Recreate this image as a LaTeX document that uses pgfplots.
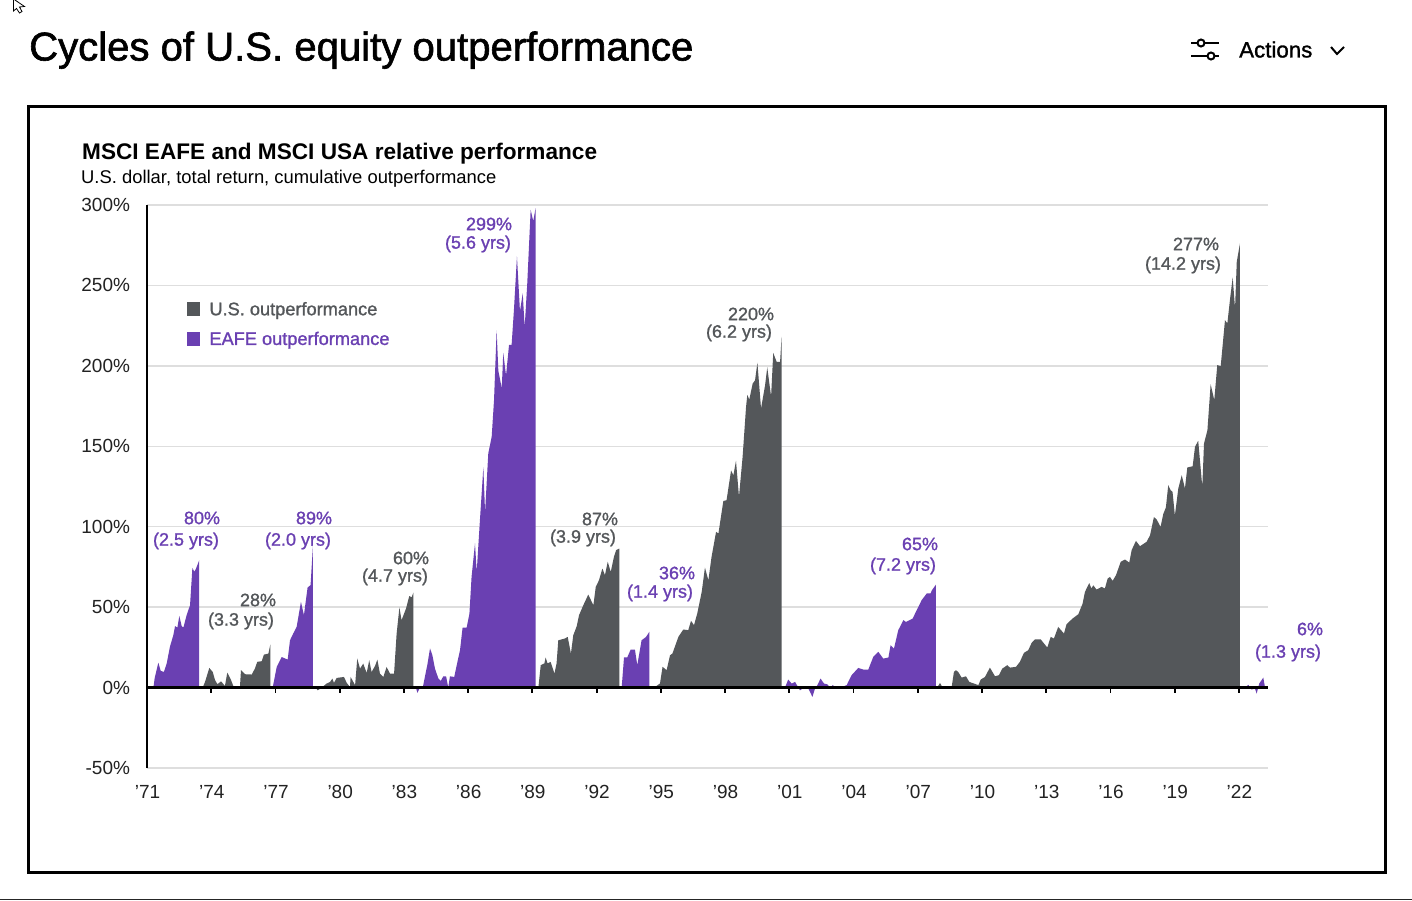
\documentclass[border=0pt]{standalone}
\usepackage{fontspec}
\usepackage{pgfplots}
\pgfplotsset{compat=1.18}
\setmainfont{Liberation Sans}
\newfontfamily\medfont[FakeBold=1.2]{Liberation Sans}
\newfontfamily\titfont[FakeBold=1.5]{Liberation Sans}
\definecolor{usgrey}{HTML}{54575A}
\definecolor{eafe}{HTML}{6A40B2}
\definecolor{gridgrey}{HTML}{DEDEDE}
\definecolor{txtgrey}{HTML}{222222}

% x = years since Jan 1971, y = cumulative outperformance in %
\pgfplotsset{
  us/.style={fill=usgrey,draw=none,no marks},
  ef/.style={fill=eafe,draw=none,no marks},
}
\newcommand\tlab[4]{\node[text=#4,font=\fontsize{18}{18}\medfont,anchor=center] at (#1,#2) {#3};}

\begin{document}
\begin{tikzpicture}
\path[use as bounding box,fill=white] (0pt,0pt) rectangle (1412pt,900pt);
\begin{axis}[
  at={(147pt,132pt)},anchor=south west,
  scale only axis,width=1121pt,height=563pt,
  xmin=0,xmax=52.36,ymin=-50,ymax=300,
  axis x line=middle,axis y line=left,
  hide obscured x ticks=false,
  axis line style={-,black,line width=2.2pt},
  xtick={0,3,...,51},
  xticklabels={'71,'74,'77,'80,'83,'86,'89,'92,'95,'98,'01,'04,'07,'10,'13,'16,'19,'22},
  x tick label style={yshift=-89pt,xshift=0.5pt,text=txtgrey,font=\fontsize{19}{19}\selectfont},
  tick align=outside,major tick length=5pt,
  x tick style={black,line width=1.8pt},
  y tick style={draw=none},
  ytick={-50,0,50,...,300},
  yticklabels={-50\%,0\%,50\%,100\%,150\%,200\%,250\%,300\%},
  y tick label style={text=txtgrey,font=\fontsize{19}{19}\selectfont,xshift=-8.5pt},
  ymajorgrids,major grid style={draw=gridgrey,line width=1.4pt},
  clip=false,
  legend cell align=left,
  legend style={draw=none,fill=none,at={(axis cs:1.88,241)},anchor=north west,
    font=\fontsize{18.2}{18}\medfont,row sep=11pt,column sep=7pt,inner sep=0pt},
  legend image code/.code={\fill[#1] (0pt,-7pt) rectangle (13pt,7pt);},
]
% purple 2.5 yrs
\addplot[ef,forget plot] coordinates {(0.30,0)(0.36,6)(0.53,15.5)(0.64,10.4)(0.79,9.7)(0.92,15)(1.07,25.3)(1.23,32.6)(1.31,38.2)(1.42,37.3)(1.51,44.5)(1.62,38.2)(1.70,37.3)(1.85,45)(2.01,51.2)(2.12,74.4)(2.21,72)(2.29,74)(2.35,76)(2.44,79.2)(2.44,0)};
% dark 3.3 yrs
\addplot[us] coordinates {(2.60,0)(2.71,3.5)(2.91,12.2)(3.07,9.7)(3.18,4.6)(3.29,2.1)(3.46,3.9)(3.64,1)(3.75,9.3)(3.91,5.2)(4.06,0)(4.34,0)(4.39,10.8)(4.58,8.3)(4.89,8.1)(5.04,11.8)(5.15,16)(5.36,16.4)(5.46,20.5)(5.67,21.1)(5.76,26.7)(5.76,0)};
\addlegendentry{\textcolor{usgrey}{U.S. outperformance}}
% purple 2.0 yrs
\addplot[ef] coordinates {(5.87,0)(6.06,12.9)(6.29,19)(6.57,17.4)(6.68,29.4)(6.83,33.6)(6.99,37.7)(7.19,53.3)(7.33,45)(7.50,62.2)(7.64,63.7)(7.75,88)(7.75,0)};
\addlegendentry{\textcolor{eafe}{EAFE outperformance}}
% dark 4.7 yrs
\addplot[us,forget plot] coordinates {(7.88,0)(7.97,-1.7)(8.08,-0.8)(8.16,0)(8.39,2.5)(8.55,3.5)(8.66,5.6)(8.73,2.9)(8.86,6)(9.09,6.4)(9.20,6.6)(9.33,2.9)(9.48,0.4)(9.51,6.6)(9.72,1.5)(9.82,18)(9.95,11.8)(10.10,14.9)(10.26,9.1)(10.38,17)(10.49,9.7)(10.65,13.4)(10.76,17.4)(10.88,8.7)(11.04,6.6)(11.19,12.8)(11.35,8.7)(11.54,8.7)(11.66,33.6)(11.79,49.8)(11.89,41.9)(12.10,49.2)(12.25,56.9)(12.36,56.1)(12.44,59)(12.44,0)};
% purple 5.6 yrs
\addplot[ef,forget plot] coordinates {(12.56,0)(12.63,-3.3)(12.75,0)(12.88,0)(12.98,6.6)(13.09,13.9)(13.22,24.3)(13.33,20.1)(13.45,11.8)(13.61,5.6)(13.72,4.1)(13.84,7)(13.97,7)(14.07,0)(14.15,7)(14.35,6.6)(14.50,16)(14.62,23.2)(14.74,37.3)(14.93,37.3)(15.06,46)(15.16,68.8)(15.32,89.6)(15.40,71.9)(15.55,104)(15.71,137)(15.79,109)(15.94,145.5)(16.10,156)(16.21,179)(16.33,222)(16.41,197)(16.57,186)(16.64,208)(16.77,194)(16.91,213)(17.03,213)(17.14,235)(17.28,268)(17.42,234)(17.55,245)(17.64,224)(17.76,251)(17.92,297)(18.04,290)(18.15,298)(18.15,0)};
% dark 3.9 yrs
\addplot[us,forget plot] coordinates {(18.28,0)(18.39,13.9)(18.56,15)(18.62,18.7)(18.71,15)(18.85,16)(19.03,8.7)(19.13,15)(19.21,29.4)(19.52,30.5)(19.65,31.5)(19.80,21.1)(19.91,32.5)(20.07,38.1)(20.18,45)(20.38,51.2)(20.61,57.8)(20.85,51.2)(20.96,62.6)(21.11,66.7)(21.27,74)(21.39,69.9)(21.52,78.2)(21.66,71.9)(21.81,81.3)(21.91,85.4)(22.06,86.4)(22.06,0)};
% purple 1.4 yrs
\addplot[ef,forget plot] coordinates {(22.17,0)(22.28,18.7)(22.43,18.7)(22.59,23.6)(22.79,23.6)(22.90,13.9)(23.10,29.4)(23.31,31.5)(23.46,34.6)(23.46,0)};
% dark 6.2 yrs
\addplot[us,forget plot] coordinates {(23.60,0)(23.73,0.4)(23.96,2.5)(24.08,12.9)(24.27,10.8)(24.43,20.1)(24.54,21.1)(24.82,31.5)(25.05,36.1)(25.28,35.7)(25.41,41.5)(25.55,38.8)(25.70,46)(25.91,59.5)(26.06,74.6)(26.22,66.7)(26.37,81.3)(26.58,96.8)(26.69,95.8)(26.92,116)(27.07,116.5)(27.28,135)(27.39,132)(27.51,141)(27.65,118.6)(27.82,143.5)(27.98,174.5)(28.04,182)(28.13,179)(28.29,189)(28.40,191)(28.51,202)(28.68,173.5)(28.87,188)(28.97,199)(29.15,181)(29.25,208)(29.41,202.5)(29.57,202.5)(29.64,218)(29.64,0)};
% purple 7.2 yrs
\addplot[ef,forget plot] coordinates {(29.80,0)(29.95,5)(30.11,2.5)(30.27,3.5)(30.50,-1.7)(30.69,0)(30.89,-0.6)(31.08,-5.8)(31.20,-0.6)(31.31,1.5)(31.46,5.6)(31.62,2.5)(31.78,2)(31.90,0)(32.03,1.5)(32.21,-0.4)(32.45,0.4)(32.68,1.5)(32.91,7.7)(33.22,12.2)(33.46,11.2)(33.69,11.2)(33.92,19)(34.16,22.2)(34.39,18)(34.63,18.7)(34.73,26.3)(34.89,24.3)(35.09,35.7)(35.33,41.9)(35.45,40.8)(35.76,42.9)(36.03,50.2)(36.18,54.3)(36.42,58.5)(36.60,58.5)(36.66,60.5)(36.85,64)(36.85,0)};
% dark 14.2 yrs
\addplot[us,forget plot] coordinates {(36.91,0)(37.04,2.9)(37.16,0)(37.58,0)(37.69,9.7)(37.78,10.8)(37.89,9.7)(38.05,6.2)(38.25,7)(38.41,3.5)(38.63,2.5)(38.83,1.5)(38.94,5)(39.14,6.6)(39.37,12.4)(39.61,7)(39.79,7.7)(39.95,11.8)(40.18,13.9)(40.31,12.4)(40.59,12.9)(40.77,16)(40.96,21.6)(41.16,23.2)(41.32,27.8)(41.47,29.9)(41.74,30)(42.05,24.9)(42.21,31.5)(42.36,30.5)(42.56,37.7)(42.83,33.6)(42.95,39.4)(43.23,42.9)(43.50,45.6)(43.70,52.2)(43.81,59.5)(44.01,65)(44.11,61.6)(44.20,63.6)(44.35,60.9)(44.59,62.6)(44.74,61.6)(44.87,67.8)(44.98,68.8)(45.10,66.3)(45.26,69.9)(45.48,78.2)(45.68,79.6)(45.88,77.7)(45.99,85.4)(46.19,91.2)(46.38,87.9)(46.69,90.6)(46.85,94.7)(47.03,106)(47.16,104.5)(47.34,99.9)(47.47,108)(47.59,112)(47.70,125.8)(47.81,122.7)(47.90,121.7)(48.01,107)(48.17,123.8)(48.33,132)(48.48,123.8)(48.59,136.8)(48.84,137.6)(48.95,149.7)(49.10,153.4)(49.29,124.8)(49.37,151.7)(49.53,160)(49.68,188.6)(49.85,178.7)(49.99,200.5)(50.15,199.8)(50.35,228.4)(50.46,226.4)(50.59,241.9)(50.71,255)(50.82,235.7)(50.90,264.7)(51.05,276.1)(51.05,0)};
% purple 1.3 yrs
\addplot[ef,forget plot] coordinates {(51.28,0)(51.44,1.7)(51.59,-1.2)(51.75,-0.6)(51.83,-3.7)(51.95,2.5)(52.14,6.2)(52.22,0)};
\draw[black,line width=2.2pt] (axis cs:0,0) -- (axis cs:52.36,0);
\end{axis}
\begin{scope}[x=1pt,y=-1pt,yshift=900pt]
\draw[black,line width=3pt] (28,107) rectangle (1385,872);
\draw[black!85,line width=1.2pt] (0,899.4) -- (1412,899.4);
\node[anchor=base west,inner sep=0pt,font=\fontsize{40.1}{40}\titfont] at (29,60.5) {Cycles of U.S. equity outperformance};
\node[anchor=base west,inner sep=0pt,font=\fontsize{22.3}{22}\medfont] at (1239,57.5) {Actions};
\draw[line width=2pt] (1331,47) -- (1337,54) -- (1344,47);
\draw[line width=2pt] (1191,43) -- (1219,43) (1191,56) -- (1219,56);
\filldraw[fill=white,draw=black,line width=2pt] (1201,43) circle (3.5);
\filldraw[fill=white,draw=black,line width=2pt] (1211,56) circle (3.5);
\draw[line width=.8pt,fill=white] (13.5,-1) -- (13.5,11) -- (16.5,8.5) -- (19.5,13) -- (22,11.5) -- (19.5,7) -- (24.5,6.5) -- cycle;
\node[anchor=base west,inner sep=0pt,font=\fontsize{22.6}{22}\bfseries] at (82,160) {MSCI EAFE and MSCI USA relative performance};
\node[anchor=base west,inner sep=0pt,font=\fontsize{18.4}{18}\selectfont] at (81,184) {U.S. dollar, total return, cumulative outperformance};
\tlab{202}{518}{80\%}{eafe}
\tlab{186}{541}{(2.5 yrs)}{eafe}
\tlab{258}{600}{28\%}{usgrey}
\tlab{241}{621}{(3.3 yrs)}{usgrey}
\tlab{314}{518}{89\%}{eafe}
\tlab{298}{541}{(2.0 yrs)}{eafe}
\tlab{411}{558}{60\%}{usgrey}
\tlab{395}{577}{(4.7 yrs)}{usgrey}
\tlab{489}{224}{299\%}{eafe}
\tlab{478}{244}{(5.6 yrs)}{eafe}
\tlab{600}{519}{87\%}{usgrey}
\tlab{583}{538}{(3.9 yrs)}{usgrey}
\tlab{677}{573}{36\%}{eafe}
\tlab{660}{593}{(1.4 yrs)}{eafe}
\tlab{751}{314}{220\%}{usgrey}
\tlab{739}{333}{(6.2 yrs)}{usgrey}
\tlab{920}{544}{65\%}{eafe}
\tlab{903}{566}{(7.2 yrs)}{eafe}
\tlab{1196}{244}{277\%}{usgrey}
\tlab{1183}{265}{(14.2 yrs)}{usgrey}
\tlab{1310}{629}{6\%}{eafe}
\tlab{1288}{653}{(1.3 yrs)}{eafe}
\end{scope}
\end{tikzpicture}
\end{document}
